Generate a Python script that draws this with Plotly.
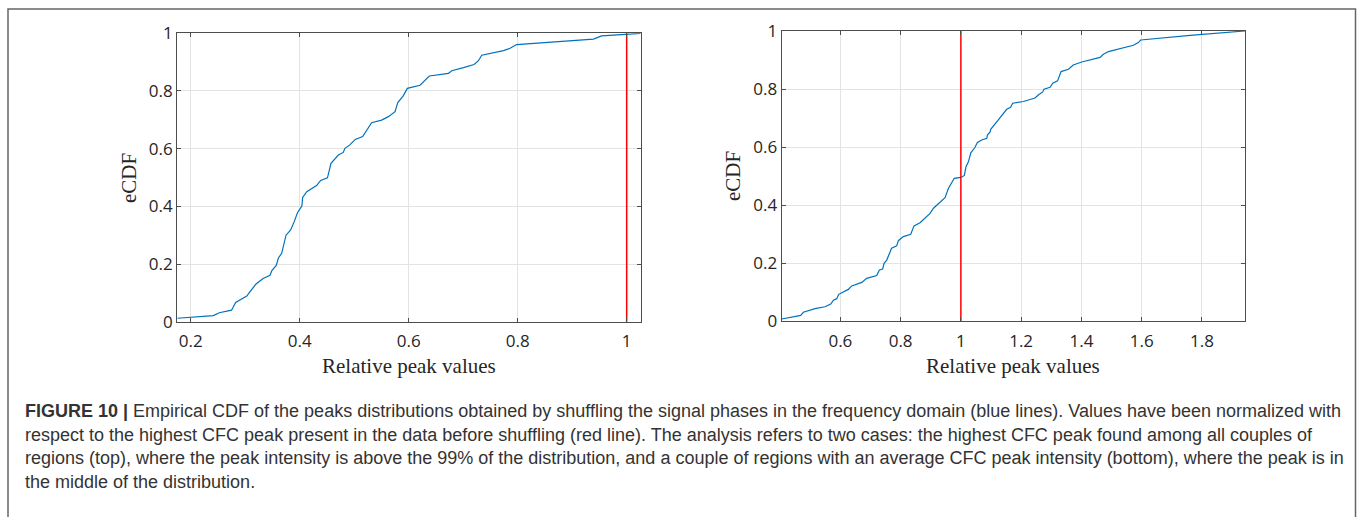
import plotly.graph_objects as go

W, H = 1360, 517

# Left panel (highest CFC peak) eCDF
left_x = [0.1755, 0.2416, 0.2526, 0.275, 0.2826, 0.303, 0.309, 0.32, 0.333, 0.3456, 0.349, 0.357,
          0.361, 0.367, 0.375, 0.3835, 0.390, 0.396, 0.404, 0.4055, 0.413, 0.422, 0.431, 0.4385,
          0.451, 0.4575, 0.466, 0.471, 0.480, 0.483, 0.492, 0.502, 0.5156, 0.532, 0.5505, 0.5627,
          0.575, 0.580, 0.590, 0.5976, 0.6208, 0.630, 0.638, 0.673, 0.679, 0.7006, 0.720, 0.728,
          0.734, 0.774, 0.786, 0.798, 0.939, 0.954, 1.000, 1.0257]
left_y = [0.012, 0.021, 0.031, 0.040, 0.067, 0.089, 0.104, 0.131, 0.150, 0.161, 0.177, 0.195,
          0.221, 0.237, 0.300, 0.318, 0.347, 0.378, 0.401, 0.431, 0.451, 0.462, 0.472, 0.490,
          0.499, 0.549, 0.568, 0.578, 0.587, 0.601, 0.613, 0.632, 0.642, 0.690, 0.699, 0.711,
          0.728, 0.760, 0.783, 0.809, 0.820, 0.836, 0.852, 0.861, 0.870, 0.881, 0.892, 0.905,
          0.924, 0.940, 0.948, 0.961, 0.980, 0.991, 0.998, 1.000]

# Right panel (average CFC peak) eCDF
right_x = [0.4053, 0.4683, 0.477, 0.516, 0.549, 0.568, 0.577, 0.588, 0.5945, 0.6266, 0.6376, 0.671,
           0.6874, 0.7206, 0.7295, 0.7405, 0.745, 0.754, 0.770, 0.787, 0.7925, 0.809, 0.8335,
           0.8445, 0.8645, 0.8976, 0.909, 0.9474, 0.9585, 0.978, 1.000, 1.0116, 1.017, 1.025,
           1.033, 1.047, 1.055, 1.069, 1.086, 1.088, 1.097, 1.099, 1.119, 1.139, 1.152, 1.165,
           1.172, 1.2075, 1.227, 1.246, 1.257, 1.2716, 1.276, 1.296, 1.305, 1.321, 1.3325, 1.357,
           1.373, 1.401, 1.462, 1.473, 1.4896, 1.5726, 1.589, 1.597, 1.761, 1.943]
right_y = [0.007, 0.0195, 0.030, 0.0425, 0.049, 0.0586, 0.072, 0.077, 0.092, 0.109, 0.121, 0.133,
           0.147, 0.157, 0.176, 0.179, 0.199, 0.210, 0.251, 0.259, 0.277, 0.291, 0.299, 0.328,
           0.339, 0.371, 0.389, 0.425, 0.457, 0.492, 0.495, 0.502, 0.532, 0.549, 0.580, 0.599,
           0.616, 0.624, 0.630, 0.641, 0.652, 0.661, 0.687, 0.713, 0.730, 0.737, 0.751, 0.757,
           0.763, 0.769, 0.779, 0.790, 0.799, 0.806, 0.820, 0.828, 0.860, 0.868, 0.883, 0.893,
           0.909, 0.920, 0.929, 0.951, 0.960, 0.969, 0.985, 1.000]

left_peak = 1.0
right_peak = 1.0

left_xticks = [0.2, 0.4, 0.6, 0.8, 1.0]
left_xticklabels = ["0.2", "0.4", "0.6", "0.8", "1"]
right_xticks = [0.6, 0.8, 1.0, 1.2, 1.4, 1.6, 1.8]
right_xticklabels = ["0.6", "0.8", "1", "1.2", "1.4", "1.6", "1.8"]
yticks = [0, 0.2, 0.4, 0.6, 0.8, 1.0]
yticklabels = ["0", "0.2", "0.4", "0.6", "0.8", "1"]

x_title = "Relative peak values"
y_title = "eCDF"
caption_lines = [
    "<b>FIGURE 10 |</b> Empirical CDF of the peaks distributions obtained by shuffling the signal phases in the frequency domain (blue lines). Values have been normalized with",
    "respect to the highest CFC peak present in the data before shuffling (red line). The analysis refers to two cases: the highest CFC peak found among all couples of",
    "regions (top), where the peak intensity is above the 99% of the distribution, and a couple of regions with an average CFC peak intensity (bottom), where the peak is in",
    "the middle of the distribution.",
]

BLUE = "#0072BD"
RED = "#FF0000"
AXC = "#4d4d4d"
TICKFONT = dict(family="Open Sans", size=17, color="#262626")

fig = go.Figure()
fig.add_trace(go.Scatter(x=left_x, y=left_y, mode="lines", line=dict(color=BLUE, width=1.2),
                         xaxis="x", yaxis="y", showlegend=False))
fig.add_trace(go.Scatter(x=[left_peak, left_peak], y=[0, 1], mode="lines",
                         line=dict(color=RED, width=1.5), xaxis="x", yaxis="y", showlegend=False))
fig.add_trace(go.Scatter(x=right_x, y=right_y, mode="lines", line=dict(color=BLUE, width=1.2),
                         xaxis="x2", yaxis="y2", showlegend=False))
fig.add_trace(go.Scatter(x=[right_peak, right_peak], y=[0, 1], mode="lines",
                         line=dict(color=RED, width=1.5), xaxis="x2", yaxis="y2", showlegend=False))

def px(x):
    return x / W

def py(y):
    return 1 - y / H

common_ax = dict(showline=True, linecolor=AXC, linewidth=1.3, mirror="allticks", ticks="inside",
                 ticklen=4, tickcolor=AXC, showgrid=True, gridcolor="#e3e3e3", gridwidth=1,
                 zeroline=False, tickfont=TICKFONT, automargin=False)

fig.update_layout(
    template="none",
    width=W, height=H, margin=dict(l=0, r=0, t=0, b=0, pad=0), autosize=False,
    paper_bgcolor="white", plot_bgcolor="white",
    xaxis=dict(domain=[px(177.3), px(640.7)], range=[0.1755, 1.0257], tickvals=left_xticks,
               ticktext=left_xticklabels, anchor="y", ticklabelstandoff=4, **common_ax),
    yaxis=dict(domain=[py(321.7), py(33.3)], range=[0, 1], tickvals=yticks, ticktext=yticklabels,
               anchor="x", **common_ax),
    xaxis2=dict(domain=[px(781.7), px(1245)], range=[0.4053, 1.943], tickvals=right_xticks,
                ticktext=right_xticklabels, anchor="y2", ticklabelstandoff=4, **common_ax),
    yaxis2=dict(domain=[py(321), py(31)], range=[0, 1], tickvals=yticks, ticktext=yticklabels,
                anchor="x2", **common_ax),
)

serif = dict(family="Liberation Serif", size=21, color="#262626")
annotations = [
    dict(text=x_title, x=px(409), y=py(366), xref="paper", yref="paper", showarrow=False,
         font=serif, xanchor="center", yanchor="middle"),
    dict(text=x_title, x=px(1013), y=py(366), xref="paper", yref="paper", showarrow=False,
         font=serif, xanchor="center", yanchor="middle"),
    dict(text=y_title, x=px(129), y=py(178), xref="paper", yref="paper", showarrow=False,
         font=serif, textangle=-90, xanchor="center", yanchor="middle"),
    dict(text=y_title, x=px(733), y=py(176), xref="paper", yref="paper", showarrow=False,
         font=serif, textangle=-90, xanchor="center", yanchor="middle"),
]
cap_font = dict(family="Liberation Sans, sans-serif", size=18, color="#333333")
for i, line in enumerate(caption_lines):
    annotations.append(dict(text=line, x=px(23), y=py(411 + 23.7 * i), xref="paper", yref="paper",
                            showarrow=False, font=cap_font, xanchor="left", yanchor="middle"))
fig.update_layout(annotations=annotations)

# outer figure frame (open at the bottom)
fig.add_shape(type="path", xref="paper", yref="paper",
              path=f"M {px(8)} 0 L {px(8)} {py(9)} L {px(1355.5)} {py(9)} L {px(1355.5)} 0",
              line=dict(color="#666666", width=1.5))

fig.write_html("out.html")
